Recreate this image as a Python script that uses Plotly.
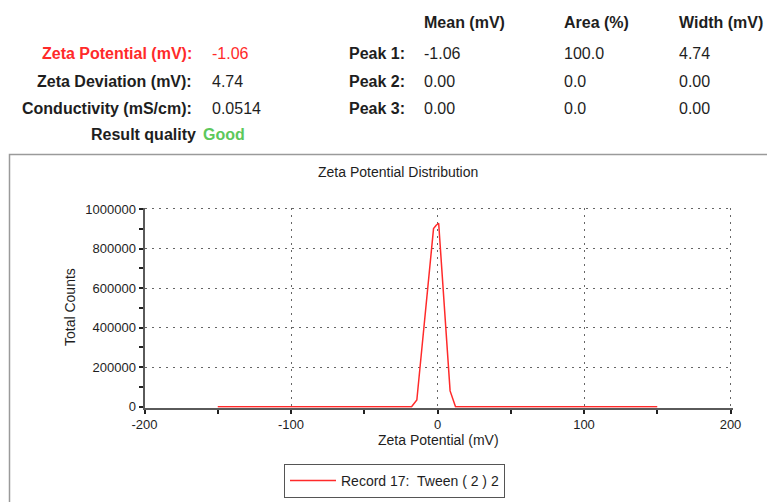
import plotly.graph_objects as go

# ---- data ----
zeta_mv = [-150, -17.7, -14.1, -2.7, -0.9, 0.8, 8.6, 12.3, 150]
total_counts = [0, 0, 34000, 901000, 918000, 928000, 80000, 0, 0]
series_name = "Record 17:  Tween ( 2 ) 2"

x_ticks = [-200, -100, 0, 100, 200]
y_ticks = [0, 200000, 400000, 600000, 800000, 1000000]

summary_labels = ["Zeta Potential (mV):", "Zeta Deviation (mV):", "Conductivity (mS/cm):"]
summary_values = ["-1.06", "4.74", "0.0514"]
quality_label = "Result quality"
quality_value = "Good"

peak_headers = ["Mean (mV)", "Area (%)", "Width (mV)"]
peak_labels = ["Peak 1:", "Peak 2:", "Peak 3:"]
peak_mean = ["-1.06", "0.00", "0.00"]
peak_area = ["100.0", "0.0", "0.0"]
peak_width = ["4.74", "0.00", "0.00"]

# page has an 8px body margin: size the figure to fit inside the window
OFF = 8
W, H = 775 - OFF, 502 - OFF
FONT = "Liberation Sans, Arial, sans-serif"
DARK = "#1e1e1e"
RED = "#ff2a2a"
GREEN = "#5cc85c"
AXIS = "#5a5a5a"


def px(x):
    return (x - OFF) / W


def py(y):
    return 1 - (y - OFF) / H


fig = go.Figure()
fig.add_trace(go.Scatter(
    x=zeta_mv, y=total_counts, mode="lines", name=series_name,
    line=dict(color=RED, width=1.5), showlegend=True,
))

annotations = []


def txt(x, y, s, size=16, color=DARK, bold=False, xanchor="left"):
    annotations.append(dict(
        x=px(x), y=py(y), xref="paper", yref="paper", text=("<b>%s</b>" % s) if bold else s,
        showarrow=False, xanchor=xanchor, yanchor="middle",
        font=dict(family=FONT, size=size, color=color),
    ))


rows_y = [53, 81, 108]
for i, (lab, val) in enumerate(zip(summary_labels, summary_values)):
    c = RED if i == 0 else DARK
    txt(194, rows_y[i], lab, color=c, bold=True, xanchor="right")
    txt(210, rows_y[i], val, color=c)
txt(198, 134, quality_label, bold=True, xanchor="right")
txt(201, 134, quality_value, color=GREEN, bold=True)

col_x = [422, 562, 677]
for hx, h in zip(col_x, peak_headers):
    txt(hx, 22, h, bold=True)
for i, lab in enumerate(peak_labels):
    txt(347, rows_y[i], lab, bold=True)
    txt(col_x[0], rows_y[i], peak_mean[i])
    txt(col_x[1], rows_y[i], peak_area[i])
    txt(col_x[2], rows_y[i], peak_width[i])

# chart texts
txt(398, 172, "Zeta Potential Distribution", size=14, xanchor="center")
txt(438, 440, "Zeta Potential (mV)", size=14, xanchor="center")
annotations.append(dict(
    x=px(70), y=py(307), xref="paper", yref="paper", text="Total Counts", textangle=-90,
    showarrow=False, xanchor="center", yanchor="middle",
    font=dict(family=FONT, size=14, color=DARK),
))

# pixel placement of the axes (reference pixels): x=-200 -> 144.5, x=200 -> 730.5,
# y=0 -> 406.7, y=1e6 -> 209.0.  Ranges slightly padded so edge gridlines show.
XR = [-200, 201.5]
YR = [-5000, 1007000]
xs = (730.5 - 144.5) / 400.0
ys = (406.7 - 209.0) / 1e6
dom_x = [px(144.5 + (XR[0] + 200) * xs), px(144.5 + (XR[1] + 200) * xs)]
dom_y = [py(406.7 - YR[0] * ys), py(406.7 - YR[1] * ys)]

grid_dash = "2px,5px"

fig.update_layout(
    template="none",
    width=W, height=H, autosize=False,
    margin=dict(l=0, r=0, t=0, b=0, pad=0),
    paper_bgcolor="white", plot_bgcolor="white",
    annotations=annotations,
    shapes=[dict(type="rect", xref="paper", yref="paper",
                 x0=px(9.5), x1=px(775 + 5), y0=py(154.5), y1=py(502 + 5),
                 line=dict(color="#9a9a9a", width=1.5), fillcolor="rgba(0,0,0,0)", layer="below")],
    xaxis=dict(
        domain=dom_x, range=XR, automargin=False,
        tickvals=x_ticks, ticktext=[str(v) for v in x_ticks],
        showline=True, linecolor=AXIS, linewidth=2, mirror=False,
        ticks="outside", ticklen=4, tickwidth=1.5, tickcolor="#222",
        minor=dict(tickvals=[-150, -50, 50, 150], ticks="outside", ticklen=4, tickwidth=1.5,
                   tickcolor="#222", showgrid=False),
        showgrid=True, gridcolor="#666", gridwidth=1, griddash=grid_dash,
        zeroline=False, layer="below traces",
        tickfont=dict(family=FONT, size=13, color=DARK),
    ),
    yaxis=dict(
        domain=dom_y, range=YR, automargin=False,
        tickvals=y_ticks, ticktext=[str(v) for v in y_ticks],
        showline=True, linecolor=AXIS, linewidth=2, mirror=False,
        ticks="outside", ticklen=4, tickwidth=1.5, tickcolor="#222",
        minor=dict(tickvals=[100000, 300000, 500000, 700000, 900000], ticks="outside", ticklen=4,
                   tickwidth=1.5, tickcolor="#222", showgrid=False),
        showgrid=True, gridcolor="#666", gridwidth=1, griddash=grid_dash,
        zeroline=False, layer="below traces",
        tickfont=dict(family=FONT, size=13, color=DARK),
    ),
    showlegend=True,
    legend=dict(
        x=px(284), y=py(498), xanchor="left", yanchor="bottom",
        bordercolor="#555", borderwidth=1, bgcolor="white",
        font=dict(family=FONT, size=14, color=DARK),
        tracegroupgap=0, itemwidth=46,
    ),
)

fig.write_html("out.html")
